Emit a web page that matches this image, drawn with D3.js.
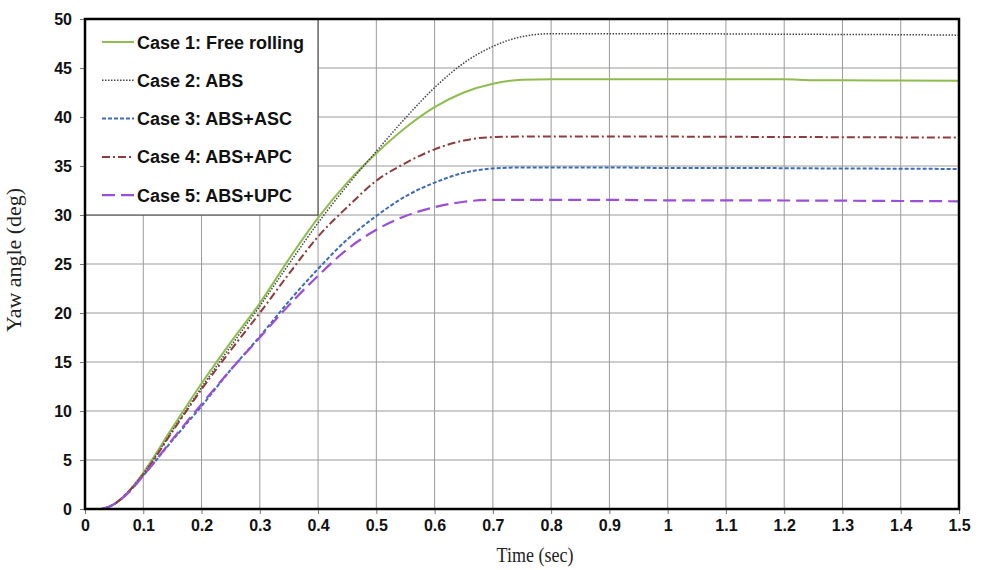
<!DOCTYPE html>
<html>
<head>
<meta charset="utf-8">
<script src="https://cdnjs.cloudflare.com/ajax/libs/d3/7.8.5/d3.min.js"></script>
<style>
body { margin: 0; background: #fff; }
.tick text { font-family: Arial, "Liberation Sans", sans-serif; font-weight: bold; font-size: 16px; fill: #111; }
</style>
</head>
<body>
<div id="chart-area"></div>
<script>
// time samples (sec)
var times = [0, 0.025, 0.05, 0.075, 0.1, 0.15, 0.2, 0.25, 0.3, 0.35, 0.4, 0.45, 0.5, 0.55, 0.6, 0.65, 0.7, 0.75, 0.8, 0.9, 1.0, 1.1, 1.2, 1.25, 1.3, 1.4, 1.5];

var case1 = [0, 0, 0.5, 1.8, 3.7, 8.3, 12.8, 17.0, 21.0, 25.5, 29.7, 33.3, 36.3, 38.9, 41.0, 42.5, 43.4, 43.8, 43.85, 43.85, 43.85, 43.85, 43.85, 43.75, 43.75, 43.72, 43.7];
var case2 = [0, 0, 0.5, 1.8, 3.6, 8.0, 12.4, 16.6, 20.7, 25.0, 29.2, 33.0, 36.5, 39.9, 43.0, 45.5, 47.2, 48.2, 48.5, 48.5, 48.5, 48.48, 48.45, 48.44, 48.42, 48.4, 48.35];
var case3 = [0, 0, 0.5, 1.7, 3.4, 7.0, 10.5, 14.2, 17.6, 21.2, 24.5, 27.5, 29.9, 31.9, 33.3, 34.3, 34.75, 34.85, 34.85, 34.85, 34.8, 34.8, 34.78, 34.76, 34.75, 34.72, 34.7];
var case4 = [0, 0, 0.5, 1.8, 3.5, 7.9, 12.2, 16.2, 20.0, 24.0, 27.8, 30.8, 33.5, 35.3, 36.7, 37.6, 37.95, 38.0, 38.0, 38.0, 38.0, 37.98, 37.96, 37.95, 37.94, 37.92, 37.9];
var case5 = [0, 0, 0.5, 1.7, 3.4, 7.1, 10.7, 14.2, 17.5, 20.8, 23.8, 26.5, 28.5, 29.9, 30.8, 31.35, 31.55, 31.55, 31.55, 31.55, 31.5, 31.5, 31.48, 31.47, 31.46, 31.43, 31.4];

var seriesNames = ["Case 1: Free rolling", "Case 2: ABS", "Case 3: ABS+ASC", "Case 4: ABS+APC", "Case 5: ABS+UPC"];
var xTicks = [0, 0.1, 0.2, 0.3, 0.4, 0.5, 0.6, 0.7, 0.8, 0.9, 1, 1.1, 1.2, 1.3, 1.4, 1.5];
var yTicks = [0, 5, 10, 15, 20, 25, 30, 35, 40, 45, 50];

var styles = [
    {color: "#8fbc4f", dash: null, w: 2},
    {color: "#444444", dash: "1.5,1.5", w: 1.5},
    {color: "#3c6cb4", dash: "4,2", w: 2},
    {color: "#8e3b3b", dash: "8,3,2,3", w: 2},
    {color: "#9a4fd6", dash: "13,6", w: 2.2}
];

var margin = {top: 19, right: 22, bottom: 61, left: 85};
var width = 981 - margin.left - margin.right;
var height = 570 - margin.top - margin.bottom;

var x = d3.scaleLinear().domain([0, 1.5]).range([0, width]);
var y = d3.scaleLinear().domain([0, 50]).range([height, 0]);

var svg = d3.select("#chart-area").append("svg")
    .attr("width", 981)
    .attr("height", 570);

var g = svg.append("g")
    .attr("transform", "translate(" + margin.left + ", " + margin.top + ")");

// grid
g.append("g").selectAll("line").data(xTicks.slice(1, -1)).enter().append("line")
    .attr("x1", (d) => x(d)).attr("x2", (d) => x(d))
    .attr("y1", 0).attr("y2", height)
    .attr("stroke", "#9a9a9a").attr("stroke-width", 1);
g.append("g").selectAll("line").data(yTicks.slice(1, -1)).enter().append("line")
    .attr("x1", 0).attr("x2", width)
    .attr("y1", (d) => y(d)).attr("y2", (d) => y(d))
    .attr("stroke", "#9a9a9a").attr("stroke-width", 1);

// axes
var xAxisGroup = g.append("g")
    .attr("transform", "translate(0, " + height + ")")
    .call(d3.axisBottom(x).tickValues(xTicks).tickSize(5).tickPadding(6).tickFormat((d) => d3.format("")(+d.toFixed(1))));
var yAxisGroup = g.append("g")
    .call(d3.axisLeft(y).tickValues(yTicks).tickSize(5).tickPadding(8));
[xAxisGroup, yAxisGroup].forEach((a) => {
    a.select(".domain").remove();
    a.selectAll(".tick line").attr("stroke", "#777");
});

// lines
var line = d3.line()
    .x((d) => x(d[0]))
    .y((d) => y(d[1]))
    .curve(d3.curveMonotoneX);

[case1, case2, case3, case4, case5].forEach((vals, i) => {
    var pts = times.map((t, j) => [t, vals[j]]);
    g.append("path")
        .datum(pts)
        .attr("fill", "none")
        .attr("stroke", styles[i].color)
        .attr("stroke-width", styles[i].w)
        .attr("stroke-dasharray", styles[i].dash)
        .attr("d", line);
});

// legend
var lg = g.append("g");
lg.append("rect")
    .attr("x", 0).attr("y", 0)
    .attr("width", 233).attr("height", 196)
    .attr("fill", "#fff").attr("stroke", "#333").attr("stroke-width", 1);
seriesNames.forEach((name, i) => {
    var yy = 23 + i * 38.3;
    lg.append("line")
        .attr("x1", 17).attr("x2", 49)
        .attr("y1", yy).attr("y2", yy)
        .attr("stroke", styles[i].color)
        .attr("stroke-width", styles[i].w)
        .attr("stroke-dasharray", styles[i].dash);
    lg.append("text")
        .attr("x", 52).attr("y", yy + 6.5)
        .attr("font-family", "Arial, 'Liberation Sans', sans-serif")
        .attr("font-weight", "bold")
        .attr("font-size", "18px")
        .attr("fill", "#111")
        .text(name);
});

// frame
g.append("rect")
    .attr("x", 0).attr("y", 0)
    .attr("width", width).attr("height", height)
    .attr("fill", "none").attr("stroke", "#000").attr("stroke-width", 2.5);

// axis titles
g.append("text")
    .attr("x", -(260 - margin.top))
    .attr("y", -64)
    .attr("transform", "rotate(-90)")
    .attr("text-anchor", "middle")
    .attr("font-family", "'Liberation Serif', 'Times New Roman', serif")
    .attr("font-size", "20px")
    .attr("textLength", 144)
    .attr("lengthAdjust", "spacingAndGlyphs")
    .attr("fill", "#222")
    .text("Yaw angle (deg)");

g.append("text")
    .attr("transform", "translate(" + (535 - margin.left) + "," + (height + 53) + ") scale(1,1.2)")
    .attr("text-anchor", "middle")
    .attr("font-family", "'Liberation Serif', 'Times New Roman', serif")
    .attr("font-size", "18px")
    .attr("fill", "#222")
    .text("Time (sec)");
</script>
</body>
</html>
